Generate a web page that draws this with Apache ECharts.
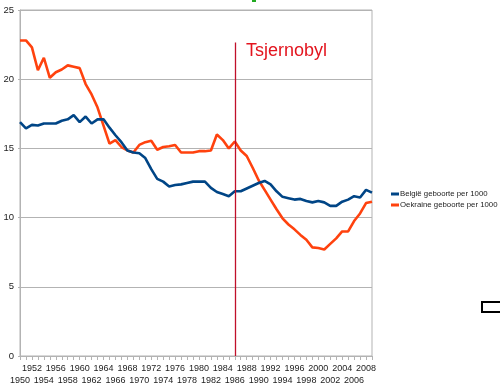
<!DOCTYPE html>
<html>
<head>
<meta charset="utf-8">
<script src="https://cdn.jsdelivr.net/npm/echarts@6/dist/echarts.min.js"></script>
<style>html,body{margin:0;padding:0;background:#fff;}#c{width:500px;height:390px;}</style>
</head>
<body>
<div id="c"></div>
<script>
var years = [];
for (var y = 1950; y <= 2009; y++) years.push(y);
var belgie = [16.9,16.45,16.7,16.65,16.8,16.8,16.8,17.0,17.1,17.4,16.9,17.3,16.8,17.1,17.1,16.5,15.95,15.45,14.85,14.7,14.65,14.3,13.5,12.8,12.6,12.25,12.35,12.4,12.5,12.6,12.6,12.6,12.15,11.85,11.7,11.55,11.9,11.9,12.1,12.3,12.5,12.65,12.4,11.9,11.5,11.4,11.3,11.35,11.2,11.1,11.2,11.1,10.85,10.85,11.15,11.3,11.55,11.45,12.0,11.8];
var oekraine = [22.8,22.8,22.3,20.65,21.55,20.1,20.5,20.7,21.0,20.9,20.8,19.65,18.9,17.95,16.65,15.35,15.6,15.1,14.85,14.7,15.25,15.45,15.55,14.9,15.1,15.15,15.25,14.7,14.7,14.7,14.8,14.8,14.85,16.0,15.6,15.0,15.5,14.85,14.45,13.6,12.7,12.0,11.3,10.6,9.95,9.5,9.15,8.75,8.4,7.85,7.8,7.7,8.1,8.5,9.0,9.0,9.75,10.3,11.05,11.15];
var seriesNames = ['België geboorte per 1000', 'Oekraine geboorte per 1000'];
var yTicks = [0, 5, 10, 15, 20, 25];
var eventYear = 1986;
var eventTop = 22.65;
var eventLabel = 'Tsjernobyl';

function pairs(vals) { return years.map(function (yr, i) { return [yr, vals[i]]; }); }

var chart = echarts.init(document.getElementById('c'), null, {renderer: 'canvas'});
chart.setOption({
  animation: false,
  backgroundColor: '#ffffff',
  textStyle: {fontFamily: 'Liberation Sans, Arial, sans-serif'},
  grid: {left: 20, right: 128, top: 10, bottom: 34, show: true, borderColor: '#b3b3b3', borderWidth: 1, backgroundColor: 'transparent'},
  xAxis: {
    type: 'value', min: 1950, max: 2009, interval: 1,
    axisLine: {show: true, lineStyle: {color: '#b3b3b3'}},
    axisTick: {show: true, length: 4, lineStyle: {color: '#b3b3b3'}},
    splitLine: {show: false},
    axisLabel: {
      color: '#222', fontSize: 9, margin: 7, lineHeight: 12, showMaxLabel: true, hideOverlap: false,
      formatter: function (v) {
        if (v % 4 === 0) return String(v);
        if (v % 4 === 2) return '\n' + v;
        return '';
      }
    }
  },
  yAxis: {
    type: 'value', min: yTicks[0], max: yTicks[yTicks.length - 1], interval: 5,
    axisLine: {show: true, lineStyle: {color: '#b3b3b3'}},
    axisTick: {show: true, length: 2, lineStyle: {color: '#b3b3b3'}},
    splitLine: {show: true, lineStyle: {color: '#b3b3b3', width: 1}},
    axisLabel: {color: '#222', fontSize: 9.5, margin: 6}
  },
  legend: {
    orient: 'vertical', left: 391, top: 190, itemWidth: 8, itemHeight: 3, itemGap: 3,
    padding: 0, icon: 'rect', data: seriesNames,
    textStyle: {fontSize: 7.8, color: '#222', padding: [0, 0, 0, -4]}
  },
  series: [
    {
      name: seriesNames[1], type: 'line', data: pairs(oekraine), showSymbol: false, symbol: 'none',
      lineStyle: {color: '#ff420e', width: 2.6}, itemStyle: {color: '#ff420e'},
      markLine: {
        silent: true, symbol: ['none', 'none'], label: {show: false},
        lineStyle: {color: '#c0102a', width: 1.3, type: 'solid', opacity: 1},
        data: [[{coord: [eventYear, 0], lineStyle: {color: '#c0102a'}}, {coord: [eventYear, eventTop]}]]
      },
      z: 2
    },
    {
      name: seriesNames[0], type: 'line', data: pairs(belgie), showSymbol: false, symbol: 'none',
      lineStyle: {color: '#004586', width: 2.6}, itemStyle: {color: '#004586'}, z: 3
    }
  ],
  graphic: [
    {type: 'text', left: 246, top: 42, style: {text: eventLabel, fill: '#e3141e', font: '18px Liberation Sans, Arial, sans-serif'}},
    {type: 'rect', shape: {x: 252, y: -2, width: 4, height: 4}, style: {fill: '#22aa22'}},
    {type: 'rect', shape: {x: 482, y: 302, width: 30, height: 10}, style: {fill: '#fff', stroke: '#000', lineWidth: 2}}
  ]
});
</script>
</body>
</html>
